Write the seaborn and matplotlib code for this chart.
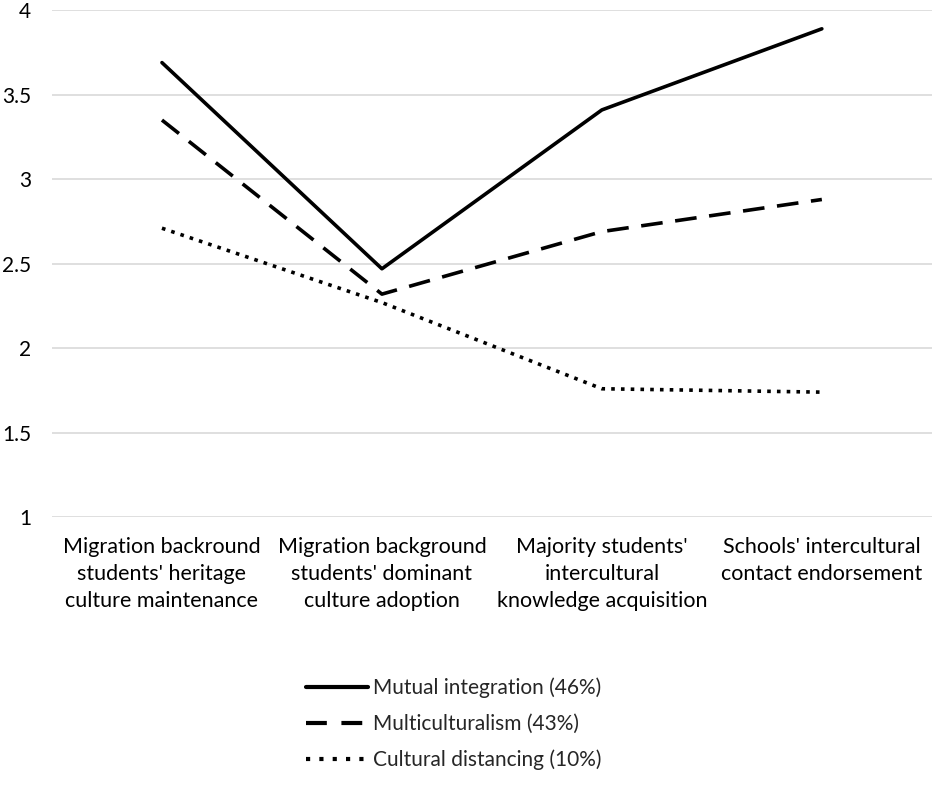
import seaborn as sns
import matplotlib.pyplot as plt
import pandas as pd

categories = [
    "Migration backround\nstudents' heritage\nculture maintenance",
    "Migration background\nstudents' dominant\nculture adoption",
    "Majority students'\nintercultural\nknowledge acquisition",
    "Schools' intercultural\ncontact endorsement",
]
series_names = ["Mutual integration (46%)", "Multiculturalism (43%)", "Cultural distancing (10%)"]
mutual = [3.69, 2.47, 3.41, 3.89]
multi = [3.35, 2.32, 2.69, 2.88]
distancing = [2.71, 2.27, 1.76, 1.74]

df = pd.DataFrame({
    "pos": list(range(4)) * 3,
    "value": mutual + multi + distancing,
    "profile": [n for n in series_names for _ in range(4)],
})

sns.set_theme(style="white")
plt.rcParams["font.family"] = ["Lato", "DejaVu Sans"]

fig = plt.figure(figsize=(9.35, 7.86), dpi=100)
ax = fig.add_axes([0.0556, 0.342, 0.941, 0.645])

dashes = {
    series_names[0]: "",
    series_names[1]: (6, 3.5),
    series_names[2]: (1, 1.7),
}
sns.lineplot(data=df, x="pos", y="value", hue="profile", style="profile",
             palette=["black"] * 3, dashes=dashes, linewidth=2.6, ax=ax,
             legend=False)
for line in ax.lines:
    line.set_dash_capstyle("butt")

ax.set_xlim(-0.5, 3.5)
ax.set_ylim(1, 4)
ax.set_yticks([1, 1.5, 2, 2.5, 3, 3.5, 4])
ax.set_yticklabels(["1", "1.5", "2", "2.5", "3", "3.5", "4"])
ax.set_xticks(range(4))
ax.set_xticklabels(categories, linespacing=1.45)
ax.tick_params(axis="both", labelsize=15.5, colors="black", length=0)
ax.tick_params(axis="y", pad=15, labelsize=15)
ax.tick_params(axis="x", pad=14)
ax.yaxis.grid(True, color="#d9d9d9", linewidth=1.2)
ax.set_axisbelow(True)
for s in ax.spines.values():
    s.set_visible(False)
ax.set_xlabel("")
ax.set_ylabel("")

handles = [plt.Line2D([], [], color="black", linewidth=3, linestyle=ls)
           for ls in ["-", (0, (5, 3.5)), (0, (1, 2.2))]]
fig.legend(handles, series_names, loc="center", bbox_to_anchor=(0.485, 0.079),
           frameon=False, fontsize=15, handlelength=3.0, handletextpad=0.2,
           labelspacing=0.75)

plt.savefig("out.png", dpi=100)
plt.close()
